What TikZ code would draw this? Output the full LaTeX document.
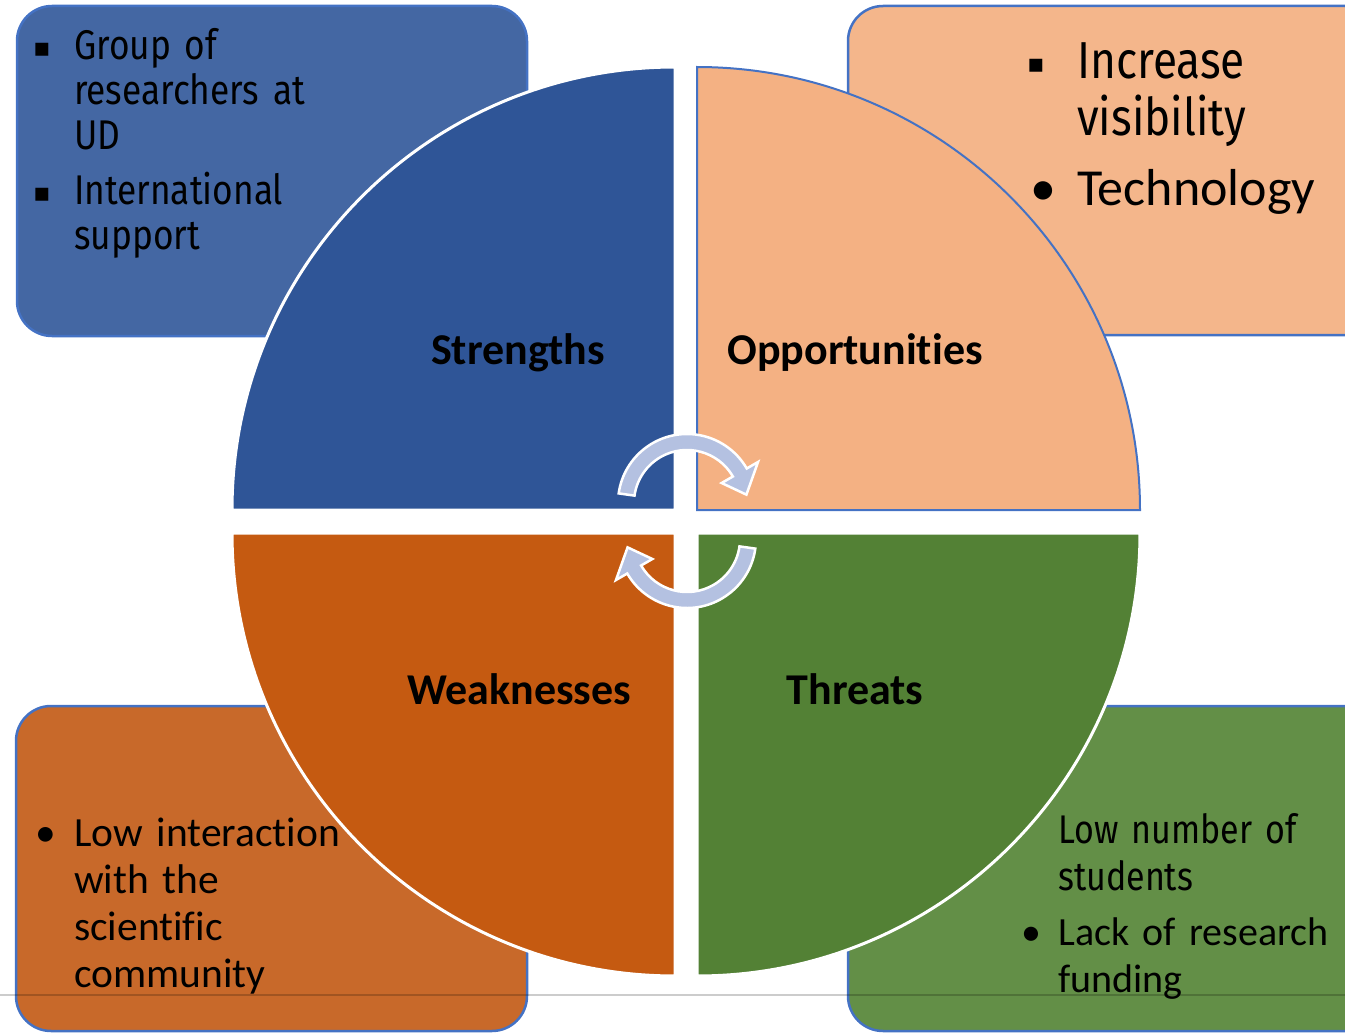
\documentclass[tikz,border=0pt]{standalone}
\usepackage{fontspec}
\setmainfont{Carlito}[Ligatures={NoCommon}]
\newfontfamily\condfont[FakeStretch=0.85]{Fira Sans}
\newfontfamily\symfont{DejaVu Sans}
\usetikzlibrary{positioning}
\definecolor{strfill}{HTML}{2F5597}
\definecolor{strbox}{HTML}{4467A3}
\definecolor{oppfill}{HTML}{F4B183}
\definecolor{oppbox}{HTML}{F4B68B}
\definecolor{weafill}{HTML}{C55A11}
\definecolor{weabox}{HTML}{C8692A}
\definecolor{thrfill}{HTML}{538135}
\definecolor{thrbox}{HTML}{638F47}
\definecolor{boxline}{HTML}{4472C4}
\definecolor{cyclecol}{HTML}{B4C1E1}
\tikzset{
  infobox/.style={draw=boxline, line width=2.5pt, rounded corners=35pt},
  quad/.style={draw=white, line width=3pt},
  title/.style={font=\bfseries\fontsize{44}{50}\selectfont, inner sep=0pt},
  bodytext/.style={anchor=base west, inner sep=0pt, align=left, text width=330pt},
  sqbullet/.style={anchor=base, inner sep=0pt, font=\symfont\fontsize{26}{26}\selectfont},
  dotbullet/.style={anchor=base, inner sep=0pt},
  cyclearrow/.pic={
    \filldraw[fill=cyclecol, draw=white, line width=2.5pt]
      (188:69) arc[start angle=188, end angle=330, radius=69]
      -- (330:82) -- (352:60) -- (330:40) -- (330:53)
      arc[start angle=330, end angle=188, radius=53] -- cycle;
  }
}
\begin{document}
\begin{tikzpicture}[x=1pt,y=-1pt]
\useasboundingbox (0,0) rectangle (1345,1033);
\clip (0,0) rectangle (1345,1033);
% boxes behind the circle
\filldraw[infobox, fill=strbox] (17,6) rectangle (527,336);
\filldraw[infobox, fill=oppbox] (848,6) rectangle (1380,335);
\filldraw[infobox, fill=weabox] (16,706) rectangle (527,1031);
\filldraw[infobox, fill=thrbox] (848,706) rectangle (1380,1031);
% slide footer line
\draw[black, draw opacity=0.2, line width=2pt] (0,995) -- (1345,995);
% quarters
\coordinate (cS) at (675,510);
\coordinate (cO) at (697,510);
\coordinate (cW) at (675,533);
\coordinate (cT) at (697,533);
\filldraw[quad, fill=strfill] (cS) -- ++(180:443) arc[start angle=180, end angle=270, radius=443] -- cycle;
\filldraw[quad, fill=oppfill, draw=boxline, line width=2pt] (cO) -- ++(270:443) arc[start angle=270, end angle=360, radius=443] -- cycle;
\filldraw[quad, fill=weafill] (cW) -- ++(90:443) arc[start angle=90, end angle=180, radius=443] -- cycle;
\filldraw[quad, fill=thrfill] (cT) -- ++(0:443) arc[start angle=0, end angle=90, radius=443] -- cycle;
% titles
\node[title] (str) at (518,353) {Strengths};
\node[title] (opp) at (855,353) {Opportunities};
\node[title] (wea) at (519,689) {Weaknesses};
\node[title] (thr) at (855,689) {Threats};
% cycle arrows
\pic at (687,503) {cyclearrow};
\pic[rotate=180] at (687,539) {cyclearrow};
% strengths text
\node[bodytext, font=\condfont\fontsize{41.5}{45}\selectfont] (s1) at (74,60) {Group of\\researchers at\\UD};
\node[bodytext, font=\condfont\fontsize{41.5}{45}\selectfont] (s2) at (74,204) {International\\support};
\node[sqbullet] at (42,57) {▪};
\node[sqbullet] at (42,201) {▪};
% opportunities text
\node[bodytext, font=\condfont\fontsize{52}{58}\selectfont] (o1) at (1077,78) {Increase\\visibility};
\node[bodytext, font=\fontsize{52}{58}\selectfont] (o2) at (1077,205) {Technology};
\node[sqbullet] at (1036,73) {▪};
\node[dotbullet, font=\fontsize{52}{58}\selectfont] at (1043,205) {•};
% weaknesses text
\node[bodytext, font=\fontsize{41.5}{47}\selectfont] (w1) at (74,846) {Low interaction\\with the\\scientific\\community};
\node[dotbullet, font=\fontsize{41.5}{47}\selectfont] at (46,846) {•};
% threats text
\node[bodytext, font=\condfont\fontsize{40}{47}\selectfont] (t1) at (1058,843) {Low number of\\students};
\node[bodytext, font=\fontsize{40}{47}\selectfont] (t2) at (1058,945) {Lack of research\\funding};
\node[dotbullet, font=\fontsize{40}{47}\selectfont] at (1031,945) {•};
\end{tikzpicture}
\end{document}
